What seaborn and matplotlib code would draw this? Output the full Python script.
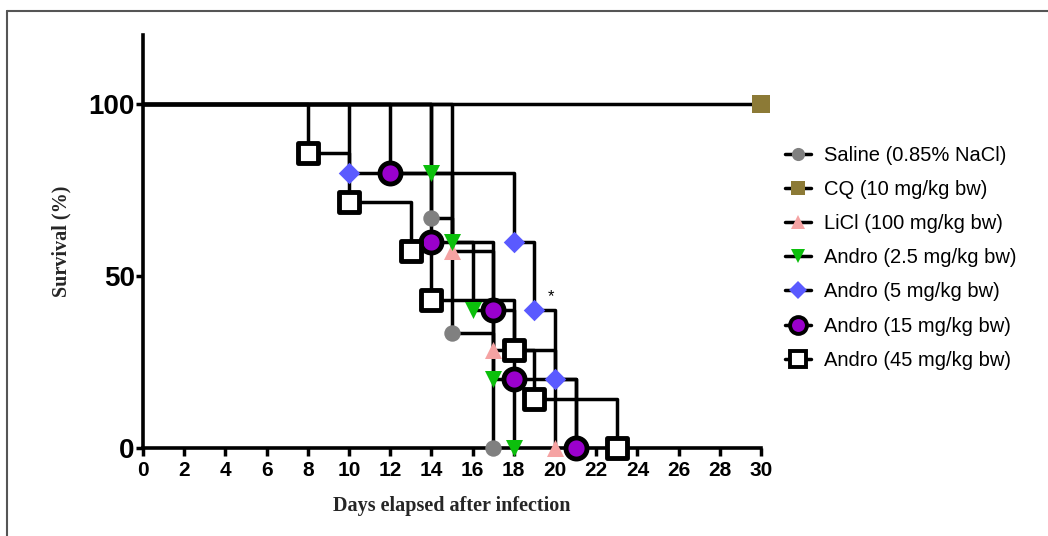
import matplotlib
matplotlib.use("Agg")
import matplotlib.pyplot as plt
from matplotlib.lines import Line2D
import pandas as pd
import seaborn as sns

# survival data (Kaplan-Meier steps)
groups = ["Saline (0.85% NaCl)", "CQ (10 mg/kg bw)", "LiCl (100 mg/kg bw)",
          "Andro (2.5 mg/kg bw)", "Andro (5 mg/kg bw)", "Andro (15 mg/kg bw)",
          "Andro (45 mg/kg bw)"]
days_saline = [0, 14, 15, 17]
surv_saline = [100, 66.7, 33.3, 0]
days_cq = [0, 30]
surv_cq = [100, 100]
days_licl = [0, 15, 17, 20]
surv_licl = [100, 57.1, 28.6, 0]
days_a25 = [0, 14, 15, 16, 17, 18]
surv_a25 = [100, 80, 60, 40, 20, 0]
days_a5 = [0, 10, 18, 19, 20, 21]
surv_a5 = [100, 80, 60, 40, 20, 0]
days_a15 = [0, 12, 14, 17, 18, 21]
surv_a15 = [100, 80, 60, 40, 20, 0]
days_a45 = [0, 8, 10, 13, 14, 18, 19, 23]
surv_a45 = [100, 85.7, 71.4, 57.1, 42.9, 28.6, 14.3, 0]
x_ticks = list(range(0, 31, 2))
y_ticks = [0, 50, 100]

all_days = [days_saline, days_cq, days_licl, days_a25, days_a5, days_a15, days_a45]
all_surv = [surv_saline, surv_cq, surv_licl, surv_a25, surv_a5, surv_a15, surv_a45]

styles = [
    dict(marker="o", facecolor="#808080", edgecolor="#808080", s=140, lw=0),
    dict(marker="s", facecolor="#8c7a36", edgecolor="#8c7a36", s=150, lw=0),
    dict(marker="^", facecolor="#f5a3a3", edgecolor="#f5a3a3", s=150, lw=0),
    dict(marker="v", facecolor="#0cbf0c", edgecolor="#0cbf0c", s=150, lw=0),
    dict(marker="D", facecolor="#5a5aff", edgecolor="#5a5aff", s=120, lw=0),
    dict(marker="o", facecolor="#9a00cc", edgecolor="black", s=230, lw=3.5),
    dict(marker="s", facecolor="white", edgecolor="black", s=200, lw=3.5),
]

sns.set_style("ticks")
plt.rcParams["font.family"] = ["Liberation Sans", "DejaVu Sans"]
plt.rcParams["text.color"] = "black"
plt.rcParams["axes.edgecolor"] = "black"
plt.rcParams["xtick.color"] = "black"
plt.rcParams["ytick.color"] = "black"

fig = plt.figure(figsize=(10.48, 5.36), dpi=100)
ax = fig.add_axes([143 / 1048, 1 - 448 / 536, (761 - 143) / 1048, (448 - 35) / 536])

for name, d, s in zip(groups, all_days, all_surv):
    df = pd.DataFrame({"day": d, "surv": s})
    sns.lineplot(data=df, x="day", y="surv", ax=ax, color="black", lw=2.5,
                 drawstyle="steps-post", legend=False, zorder=2)

for name, d, s, st in zip(groups, all_days, all_surv, styles):
    df = pd.DataFrame({"day": d[1:], "surv": s[1:]})
    sns.scatterplot(data=df, x="day", y="surv", ax=ax, marker=st["marker"],
                    color=st["facecolor"], edgecolor=st["edgecolor"],
                    s=st["s"], linewidth=st["lw"], legend=False, zorder=3,
                    clip_on=False)

ax.text(19.8, 44, "*", fontsize=12, ha="center", va="center")

ax.set_xlim(0, 30)
ax.set_ylim(0, 120)
ax.set_xticks(x_ticks)
ax.set_yticks(y_ticks)
ax.tick_params(axis="x", labelsize=15, width=2.5, length=6, pad=3, colors="black")
ax.tick_params(axis="y", labelsize=20, width=2.5, length=5, pad=1, colors="black")
for lab in ax.get_xticklabels() + ax.get_yticklabels():
    lab.set_fontweight("bold")
for sp in ["top", "right"]:
    ax.spines[sp].set_visible(False)
for sp in ["left", "bottom"]:
    ax.spines[sp].set_linewidth(2.6)
    ax.spines[sp].set_color("black")

ax.set_xlabel("Days elapsed after infection", fontsize=14.5, fontweight="bold",
              family=["Liberation Serif", "DejaVu Serif"], labelpad=12)
ax.set_ylabel("Survival (%)", fontsize=14.5, fontweight="bold",
              family=["Liberation Serif", "DejaVu Serif"], labelpad=12)

handles = []
for name, st in zip(groups, styles):
    ms = st["s"] ** 0.5 * 0.8
    handles.append(Line2D([0], [0], color="black", lw=2.5, marker=st["marker"],
                          markerfacecolor=st["facecolor"],
                          markeredgecolor=st["edgecolor"],
                          markeredgewidth=st["lw"] * 0.8, markersize=ms,
                          label=name))
ax.legend(handles=handles, loc="upper left", bbox_to_anchor=(1.01, 0.775),
          frameon=False, fontsize=14.5, handlelength=1.3, handletextpad=0.6,
          labelspacing=0.75)

# figure frame (left and top edges)
fig.add_artist(Line2D([7 / 1048, 7 / 1048], [0, 1 - 11 / 536], color="#555555",
                      lw=1.5, transform=fig.transFigure))
fig.add_artist(Line2D([7 / 1048, 1], [1 - 11 / 536, 1 - 11 / 536], color="#555555",
                      lw=1.5, transform=fig.transFigure))

fig.savefig("out.png", dpi=100)
